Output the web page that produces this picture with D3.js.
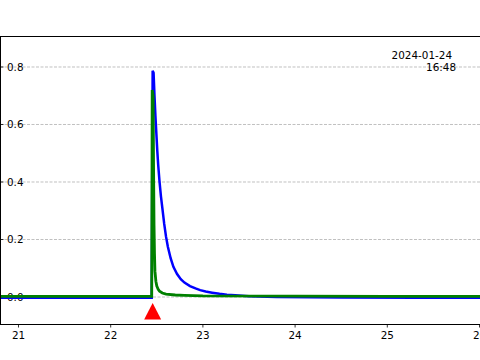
<!DOCTYPE html>
<html>
<head>
<meta charset="utf-8">
<script src="https://cdn.jsdelivr.net/npm/d3@7"></script>
<style>
  html, body { margin: 0; padding: 0; background: #fff; }
  svg { display: block; font-family: "DejaVu Sans", sans-serif; }
</style>
</head>
<body>
<svg id="chart" width="480" height="360"></svg>
<script>
// values (time in hours, signal)
var blueT = [20.8, 21.5, 22.0, 22.445, 22.455, 22.465, 22.475, 22.485, 22.495, 22.505, 22.515, 22.53, 22.545, 22.56, 22.58, 22.6, 22.62, 22.65, 22.68, 22.72, 22.76, 22.8, 22.86, 22.92, 22.97, 23.03, 23.1, 23.18, 23.26, 23.35, 23.5, 23.8, 24.5, 25.3, 26.1];
var blueV = [-0.003, -0.003, -0.003, -0.003, 0.787, 0.78, 0.7, 0.63, 0.57, 0.51, 0.46, 0.40, 0.35, 0.31, 0.255, 0.21, 0.175, 0.135, 0.105, 0.08, 0.062, 0.05, 0.038, 0.03, 0.024, 0.019, 0.015, 0.011, 0.008, 0.006, 0.003, 0.0, -0.002, -0.003, -0.003];
var greenT = [20.8, 21.5, 22.0, 22.445, 22.45, 22.46, 22.465, 22.47, 22.475, 22.48, 22.49, 22.5, 22.515, 22.53, 22.56, 22.6, 22.7, 22.8, 23.0, 24.0, 25.0, 26.1];
var greenV = [0.002, 0.002, 0.002, 0.002, 0.72, 0.70, 0.45, 0.25, 0.15, 0.09, 0.055, 0.038, 0.027, 0.02, 0.014, 0.01, 0.007, 0.006, 0.004, 0.003, 0.002, 0.002];
var markerT = [22.455];
var markerV = [-0.05];
var xTicks = [21, 22, 23, 24, 25, 26];
var yTicks = [0.0, 0.2, 0.4, 0.6, 0.8];
var stampLines = ["2024-01-24", "16:48"];

function main(){
    var svg = d3.select("#chart");
    var left = 0, right = 480, top = 36, bottom = 324;
    var fs = 10.4;

    var xScale = d3.scaleLinear().domain([20.7994, 26.0054]).range([left, right]);
    var yScale = d3.scaleLinear().domain([-0.0939, 0.9078]).range([bottom, top]);

    svg.append("clipPath").attr("id", "plot")
        .append("rect").attr("x", left).attr("y", top)
        .attr("width", right - left).attr("height", bottom - top);

    // grid
    svg.append("g").selectAll("line").data(yTicks).enter().append("line")
        .attr("x1", left).attr("x2", right)
        .attr("y1", function(d){ return yScale(d); })
        .attr("y2", function(d){ return yScale(d); })
        .attr("stroke", "#b0b0b0").attr("stroke-width", 0.8)
        .attr("stroke-dasharray", "3,1.5");

    // y tick marks and labels (inside the plot)
    var yg = svg.append("g");
    yg.selectAll("line").data(yTicks).enter().append("line")
        .attr("x1", left).attr("x2", left + 3.5)
        .attr("y1", function(d){ return yScale(d); })
        .attr("y2", function(d){ return yScale(d); })
        .attr("stroke", "#000").attr("stroke-width", 0.8);
    yg.selectAll("text").data(yTicks).enter().append("text")
        .attr("x", left + 7)
        .attr("y", function(d){ return yScale(d); })
        .attr("dy", "0.36em")
        .attr("font-size", fs)
        .attr("fill", "#000")
        .text(function(d){ return d3.format(".1f")(d); });

    // series
    var line = d3.line()
        .x(function(d){ return xScale(d[0]); })
        .y(function(d){ return yScale(d[1]); });

    var blue = d3.zip(blueT, blueV);
    var green = d3.zip(greenT, greenV);

    var g = svg.append("g").attr("clip-path", "url(#plot)");
    g.append("path").datum(blue).attr("d", line)
        .attr("fill", "none").attr("stroke", "#0000ff").attr("stroke-width", 2.5);
    g.append("path").datum(green).attr("d", line)
        .attr("fill", "none").attr("stroke", "#008000").attr("stroke-width", 2.8);

    // event marker
    g.selectAll(".marker").data(d3.zip(markerT, markerV)).enter().append("path")
        .attr("class", "marker")
        .attr("transform", function(d){ return "translate(" + xScale(d[0]) + "," + yScale(d[1]) + ")"; })
        .attr("d", "M0,-8.3L8.5,8L-8.5,8Z")
        .attr("fill", "#ff0000");

    // x axis
    var xg = svg.append("g");
    xg.selectAll("line").data(xTicks).enter().append("line")
        .attr("x1", function(d){ return xScale(d); })
        .attr("x2", function(d){ return xScale(d); })
        .attr("y1", bottom).attr("y2", bottom + 3.5)
        .attr("stroke", "#000").attr("stroke-width", 0.8);
    xg.selectAll("text").data(xTicks).enter().append("text")
        .attr("x", function(d){ return xScale(d); })
        .attr("y", bottom + 15)
        .attr("text-anchor", "middle")
        .attr("font-size", fs)
        .attr("fill", "#000")
        .text(function(d){ return d; });

    // frame
    svg.append("line").attr("x1", left + 0.5).attr("x2", left + 0.5)
        .attr("y1", top).attr("y2", bottom).attr("stroke", "#000").attr("stroke-width", 1);
    svg.append("line").attr("x1", left).attr("x2", right)
        .attr("y1", top + 0.5).attr("y2", top + 0.5).attr("stroke", "#000").attr("stroke-width", 1);
    svg.append("line").attr("x1", left).attr("x2", right)
        .attr("y1", bottom + 0.5).attr("y2", bottom + 0.5).attr("stroke", "#000").attr("stroke-width", 1);

    // timestamp
    svg.append("text").attr("x", 452).attr("y", 59)
        .attr("text-anchor", "end").attr("font-size", fs).attr("fill", "#000")
        .text(stampLines[0]);
    svg.append("text").attr("x", 456).attr("y", 71)
        .attr("text-anchor", "end").attr("font-size", fs).attr("fill", "#000")
        .text(stampLines[1]);
}
main();
</script>
</body>
</html>
